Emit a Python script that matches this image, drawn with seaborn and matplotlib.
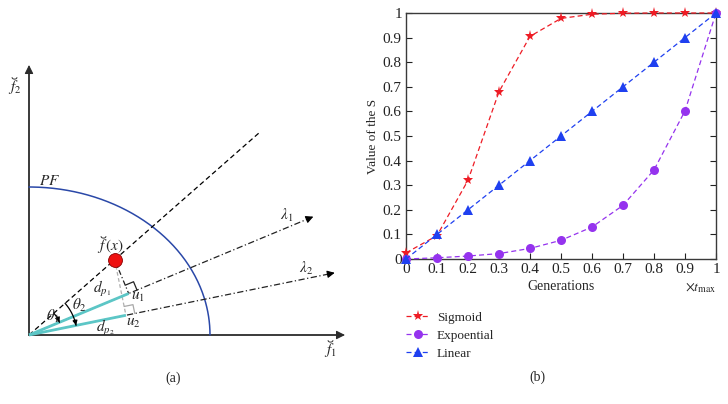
import numpy as np
import pandas as pd
import seaborn as sns
import matplotlib.pyplot as plt

# ---- data for panel (b) ----
generations = [0, 0.1, 0.2, 0.3, 0.4, 0.5, 0.6, 0.7, 0.8, 0.9, 1.0]
sigmoid = [0.025, 0.095, 0.32, 0.68, 0.905, 0.978, 0.995, 0.999, 1.0, 1.0, 1.0]
expoential = [0.0, 0.005, 0.012, 0.022, 0.043, 0.076, 0.13, 0.218, 0.362, 0.602, 1.0]
linear = [0.0, 0.1, 0.2, 0.3, 0.4, 0.5, 0.6, 0.7, 0.8, 0.9, 1.0]
series_names = ['Sigmoid', 'Expoential', 'Linear']
tick_labels = ['0', '0.1', '0.2', '0.3', '0.4', '0.5', '0.6', '0.7', '0.8', '0.9', '1']

# ---- geometry for panel (a) (pixel-like units, origin at the corner) ----
pf_radii = (181, 148)
fx_angle, fx_radius, fx_line_len = 41.3, 114, 306
lambda_angles = [22.6, 11.5]
lambda_lens = [308, 312]
theta_radii = [33, 48]

sns.set_style('ticks')
plt.rcParams['font.family'] = ['Liberation Serif', 'DejaVu Serif']
plt.rcParams['mathtext.fontset'] = 'stix'

fig = plt.figure(figsize=(7.28, 4.04), dpi=100)

# ================= panel (a) =================
ax_a = fig.add_axes([0, 0, 0.5, 1])
ax_a.set_xlim(-29, 335)
ax_a.set_ylim(-69, 335)
ax_a.axis('off')


def unit(deg):
    r = np.deg2rad(deg)
    return np.array([np.cos(r), np.sin(r)])


def arrow_head(ax, tip, direction, color='k', scale=11):
    ax.annotate('', xy=tip, xytext=tip - 6 * direction,
                arrowprops=dict(arrowstyle='-|>', color=color, lw=0.8,
                                mutation_scale=scale, shrinkA=0, shrinkB=0))


def breve_f(ax, x, y, rest):
    # italic f followed by the rest of the label, with a small breve drawn on top
    ax.text(x, y, r'$f' + rest + '$', fontsize=11, ha='left', va='center')
    tb = np.linspace(np.pi, 2 * np.pi, 20)
    ax.plot(x + 6.5 + 2.4 * np.cos(tb), y + 9.5 + 1.6 * np.sin(tb), color='#333333', lw=0.7)


# coordinate axes
axis_col = '#2b2b2b'
ax_a.plot([0, 0], [0, 264], color=axis_col, lw=1.3)
ax_a.plot([0, 310], [0, 0], color=axis_col, lw=1.3)
arrow_head(ax_a, np.array([0, 270]), np.array([0, 1]), axis_col, 13)
arrow_head(ax_a, np.array([316, 0]), np.array([1, 0]), axis_col, 13)

# Pareto front
t = np.linspace(0, np.pi / 2, 200)
ax_a.plot(pf_radii[0] * np.cos(t), pf_radii[1] * np.sin(t), color='#2a48a8', lw=1.1)

# direction through f(x)
d_fx = unit(fx_angle)
end = d_fx * fx_line_len
ax_a.plot([0, end[0]], [0, end[1]], color='k', lw=0.9, dashes=(4, 2.5))

# reference vectors
for ang, ln in zip(lambda_angles, lambda_lens):
    d = unit(ang)
    p = d * (ln - 6)
    ax_a.plot([0, p[0]], [0, p[1]], color='#222222', lw=0.9, dashes=(5, 2, 1, 2))
    arrow_head(ax_a, d * ln, d, 'k', 11)

# f(x) and its projections
fx = d_fx * fx_radius
u_pts = []
for ang in lambda_angles:
    d = unit(ang)
    u_pts.append(d * np.dot(fx, d))

for u, col, dash in zip(u_pts, ['#222222', '#b0b0b0'], [(4, 2, 1, 2), (3, 2)]):
    ax_a.plot([fx[0], u[0]], [fx[1], u[1]], color=col, lw=0.9, dashes=dash)

for u, ang, col in zip(u_pts, lambda_angles, ['#222222', '#a8a8a8']):
    fwd = unit(ang)
    perp = (fx - u) / np.linalg.norm(fx - u)
    s = 9
    sq = np.array([u + s * fwd, u + s * fwd + s * perp, u + s * perp])
    ax_a.plot(sq[:, 0], sq[:, 1], color=col, lw=0.9)

for u in u_pts:
    ax_a.plot([0, u[0]], [0, u[1]], color='#5cc6c6', lw=2.0, solid_capstyle='butt')

ax_a.plot(fx[0], fx[1], 'o', color='#ee1111', markersize=10, markeredgecolor='#8a0000',
          markeredgewidth=0.6, zorder=5)

# angle arcs
for rad, a0, a1 in zip(theta_radii, [fx_angle, fx_angle], lambda_angles):
    tt = np.linspace(np.deg2rad(a0), np.deg2rad(a1), 40)
    ax_a.plot(rad * np.cos(tt), rad * np.sin(tt), color='k', lw=0.9)
    tip = rad * unit(a1)
    tan = unit(a1 - 90)
    arrow_head(ax_a, tip, tan, 'k', 7)

txt = dict(fontsize=11, ha='center', va='center')
breve_f(ax_a, -21, 248, '_2')
breve_f(ax_a, 295, -15, '_1')
breve_f(ax_a, 68, 89, r'\,(x)')
ax_a.text(21, 154, r'$PF$', **txt)
ax_a.text(258, 120, r'$\lambda_1$', **txt)
ax_a.text(277, 67, r'$\lambda_2$', **txt)
ax_a.text(73, 46, r'$d_{p_1}$', **txt)
ax_a.text(109, 38, r'$u_1$', **txt)
ax_a.text(104, 12, r'$u_2$', **txt)
ax_a.text(76, 7, r'$d_{p_2}$', **txt)
ax_a.text(24, 19, r'$\theta_1$', **txt)
ax_a.text(50, 30, r'$\theta_2$', **txt)
ax_a.text(144, -43, '(a)', fontsize=10, ha='center', va='center')

# ================= panel (b) =================
ax_b = fig.add_axes([406 / 728, 145 / 404, 310 / 728, 246 / 404])

df = pd.DataFrame({
    'Generations': generations * 3,
    'Value': sigmoid + expoential + linear,
    'Series': np.repeat(series_names, len(generations)),
})

palette = {'Sigmoid': '#ee1c25', 'Expoential': '#9533ee', 'Linear': '#1f40f0'}
markers = {'Sigmoid': '*', 'Expoential': 'o', 'Linear': '^'}
sizes = {'Sigmoid': 8, 'Expoential': 6.5, 'Linear': 7}

for name in series_names:
    sub = df[df['Series'] == name]
    sns.lineplot(data=sub, x='Generations', y='Value', ax=ax_b, color=palette[name],
                 marker=markers[name], markersize=sizes[name], markeredgewidth=0,
                 lw=0.9, label=name, clip_on=False, zorder=3)
for line in ax_b.lines:
    line.set_dashes((4, 2.5))

ax_b.set_xlim(0, 1)
ax_b.set_ylim(0, 1)
ax_b.set_xticks(generations)
ax_b.set_xticklabels(tick_labels)
ax_b.set_yticks(linear)
ax_b.set_yticklabels(tick_labels)
ax_b.tick_params(direction='in', length=4, width=0.8, labelsize=11, colors='#222222',
                 left=True, bottom=True, right=True, top=False, pad=3)
for sp in ax_b.spines.values():
    sp.set_visible(True)
    sp.set_color('#3a3a3a')
    sp.set_linewidth(1.0)
ax_b.set_xlabel('Generations', fontsize=10, labelpad=3)
ax_b.set_ylabel('Value of the S', fontsize=9.5, labelpad=3)
ax_b.text(1.0, -0.115, r'$\times t_{\max}$', transform=ax_b.transAxes,
          ha='right', va='center', fontsize=10)

handles, labels = ax_b.get_legend_handles_labels()
ax_b.legend_.remove()
fig.legend(handles, labels, loc='upper left', bbox_to_anchor=(401 / 728, 1 - 306 / 404),
           frameon=False, fontsize=9.5, handlelength=1.8, handletextpad=0.5,
           labelspacing=0.45, borderaxespad=0)
fig.text(537 / 728, 1 - 377 / 404, '(b)', fontsize=10, ha='center', va='center')

fig.savefig('out.png', dpi=100)
